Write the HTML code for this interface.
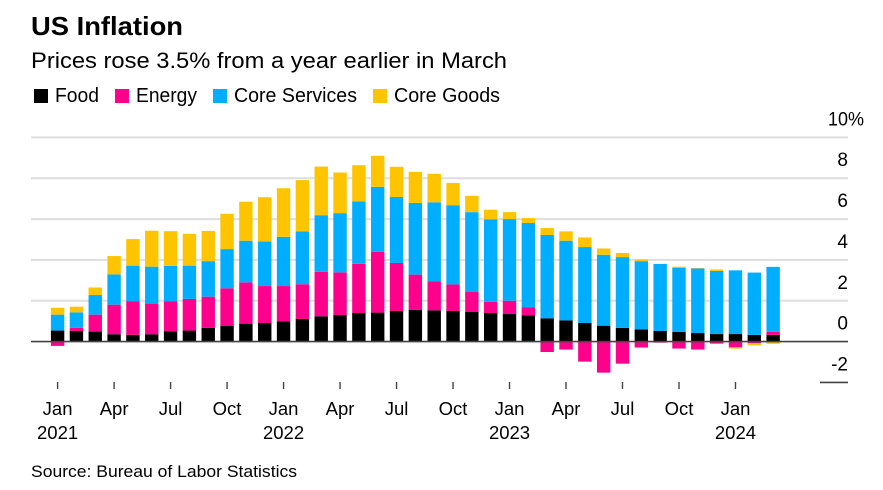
<!DOCTYPE html>
<html lang="en">
<head>
<meta charset="utf-8">
<title>US Inflation</title>
<style>
html,body{margin:0;padding:0;background:#fff;width:883px;height:490px;overflow:hidden}
svg{display:block}
text{font-family:"Liberation Sans",Arial,sans-serif;fill:#000}
</style>
</head>
<body>
<svg id="chart" xmlns="http://www.w3.org/2000/svg" width="883" height="490" viewBox="0 0 883 490">
  <text x="31" y="35" font-size="26" font-weight="700" textLength="152" lengthAdjust="spacingAndGlyphs">US Inflation</text>
  <text x="31" y="68" font-size="22" textLength="476" lengthAdjust="spacingAndGlyphs">Prices rose 3.5% from a year earlier in March</text>

  <g>
    <rect x="34" y="89" width="14" height="14" fill="#000000"/>
    <text x="55" y="102" font-size="20" textLength="44" lengthAdjust="spacingAndGlyphs">Food</text>
    <rect x="115" y="89" width="14" height="14" fill="#ff008c"/>
    <text x="136" y="102" font-size="20" textLength="61" lengthAdjust="spacingAndGlyphs">Energy</text>
    <rect x="213" y="89" width="14" height="14" fill="#00aeff"/>
    <text x="234" y="102" font-size="20" textLength="123" lengthAdjust="spacingAndGlyphs">Core Services</text>
    <rect x="373" y="89" width="14" height="14" fill="#ffc400"/>
    <text x="394" y="102" font-size="20" textLength="106" lengthAdjust="spacingAndGlyphs">Core Goods</text>
  </g>

  <g id="grid"></g>
  <g id="bars"></g>
  <g id="axes"></g>

  <text x="31" y="477" font-size="16.5" fill="#222" textLength="266" lengthAdjust="spacingAndGlyphs">Source: Bureau of Labor Statistics</text>
</svg>
<script>
var food = [0.54,0.52,0.49,0.36,0.33,0.36,0.51,0.54,0.67,0.78,0.88,0.91,0.99,1.11,1.24,1.30,1.40,1.42,1.50,1.55,1.53,1.50,1.45,1.40,1.35,1.29,1.14,1.04,0.91,0.78,0.67,0.60,0.52,0.47,0.42,0.37,0.37,0.33,0.33];
var energy = [-0.21,0.16,0.83,1.45,1.65,1.50,1.47,1.55,1.53,1.83,2.02,1.81,1.73,1.70,2.18,2.09,2.41,2.98,2.35,1.73,1.43,1.30,0.98,0.55,0.65,0.38,-0.51,-0.39,-0.98,-1.52,-1.08,-0.29,-0.05,-0.34,-0.39,-0.10,-0.28,-0.08,0.15];
var coreServices = [0.78,0.75,0.96,1.48,1.74,1.81,1.73,1.63,1.74,1.92,2.04,2.18,2.41,2.59,2.77,2.90,3.05,3.18,3.23,3.51,3.86,3.88,3.91,4.04,4.00,4.14,4.08,3.90,3.72,3.47,3.47,3.34,3.28,3.15,3.16,3.09,3.12,3.05,3.18];
var coreGoods = [0.34,0.28,0.37,0.90,1.30,1.76,1.70,1.56,1.48,1.73,1.91,2.17,2.38,2.51,2.38,1.99,1.78,1.52,1.48,1.52,1.40,1.09,0.80,0.47,0.34,0.24,0.34,0.46,0.47,0.31,0.20,0.08,0.01,0.05,0.02,0.07,-0.06,-0.10,-0.11];
var seriesNames = ["food","energy","core-services","core-goods"];
var seriesColors = ["#000000","#ff008c","#00aeff","#ffc400"];
var yTicks = [10,8,6,4,2,0,-2];
var xTickIndexes = [0,3,6,9,12,15,18,21,24,27,30,33,36];
var xTickLabels = ["Jan","Apr","Jul","Oct","Jan","Apr","Jul","Oct","Jan","Apr","Jul","Oct","Jan"];
var yearLabels = ["2021","2022","2023","2024"];
var yearTickIndexes = [0,12,24,36];

var NS = "http://www.w3.org/2000/svg";
function yScale(v){ return 341.6 - v * 20.42; }
function xScale(i){ return 57.6 + i * 18.83; }
var barWidth = 13.4;

function make(tag, parent){
  var el = document.createElementNS(NS, tag);
  parent.appendChild(el);
  return el;
}

var grid = document.getElementById("grid");
var axes = document.getElementById("axes");
var barsG = document.getElementById("bars");

yTicks.forEach(function(t){
  if (t > 0) {
    var line = make("line", grid);
    
    
    line.setAttribute("x1", 31);
    line.setAttribute("x2", 848);
    line.setAttribute("y1", yScale(t));
    line.setAttribute("y2", yScale(t));
    line.setAttribute("stroke", "#dedede");
    line.setAttribute("stroke-width", 2);
  }
});

var allSeries = [food, energy, coreServices, coreGoods];
food.forEach(function(_, i){
  var up = 0, down = 0;
  allSeries.forEach(function(series, s){
    var v = series[i];
    var start = v >= 0 ? up : down;
    var end = start + v;
    if (v >= 0) { up = end; } else { down = end; }
    var top = yScale(Math.max(start, end));
    var bottom = yScale(Math.min(start, end));
    var r = make("rect", barsG);
    
    
    r.setAttribute("data-series", seriesNames[s]);
    r.setAttribute("x", xScale(i) - barWidth / 2);
    r.setAttribute("y", top);
    r.setAttribute("width", barWidth);
    r.setAttribute("height", bottom - top);
    r.setAttribute("fill", seriesColors[s]);
  });
});

var zero = make("line", axes);


zero.setAttribute("x1", 31);
zero.setAttribute("x2", 848);
zero.setAttribute("y1", yScale(0));
zero.setAttribute("y2", yScale(0));
zero.setAttribute("stroke", "#444444");
zero.setAttribute("stroke-width", 1.6);

var bottomLine = make("line", axes);


bottomLine.setAttribute("x1", 820);
bottomLine.setAttribute("x2", 848);
bottomLine.setAttribute("y1", yScale(-2));
bottomLine.setAttribute("y2", yScale(-2));
bottomLine.setAttribute("stroke", "#444444");
bottomLine.setAttribute("stroke-width", 1.6);

yTicks.forEach(function(t){
  var label = make("text", axes);
  
  
  label.setAttribute("x", 848);
  label.setAttribute("y", yScale(t) - 12);
  label.setAttribute("font-size", 19);
  label.setAttribute("text-anchor", "end");
  label.textContent = String(t);
  if (t === 10) {
    var pct = make("tspan", label);
    
    
    pct.textContent = "%";
    label.setAttribute("text-anchor", "start");
    label.setAttribute("x", 828);
    label.setAttribute("textLength", 36);
    label.setAttribute("lengthAdjust", "spacingAndGlyphs");
  }
});

xTickIndexes.forEach(function(idx, k){
  var tick = make("line", axes);
  
  
  tick.setAttribute("x1", xScale(idx));
  tick.setAttribute("x2", xScale(idx));
  tick.setAttribute("y1", 382);
  tick.setAttribute("y2", 389);
  tick.setAttribute("stroke", "#444444");
  tick.setAttribute("stroke-width", 1.4);

  var label = make("text", axes);
  
  
  label.setAttribute("x", xScale(idx));
  label.setAttribute("y", 415);
  label.setAttribute("font-size", 18.5);
  label.setAttribute("text-anchor", "middle");
  label.textContent = xTickLabels[k];
});

yearTickIndexes.forEach(function(idx, k){
  var label = make("text", axes);
  
  
  label.setAttribute("x", xScale(idx));
  label.setAttribute("y", 439);
  label.setAttribute("font-size", 18.5);
  label.setAttribute("text-anchor", "middle");
  label.textContent = yearLabels[k];
});
</script>
</body>
</html>
